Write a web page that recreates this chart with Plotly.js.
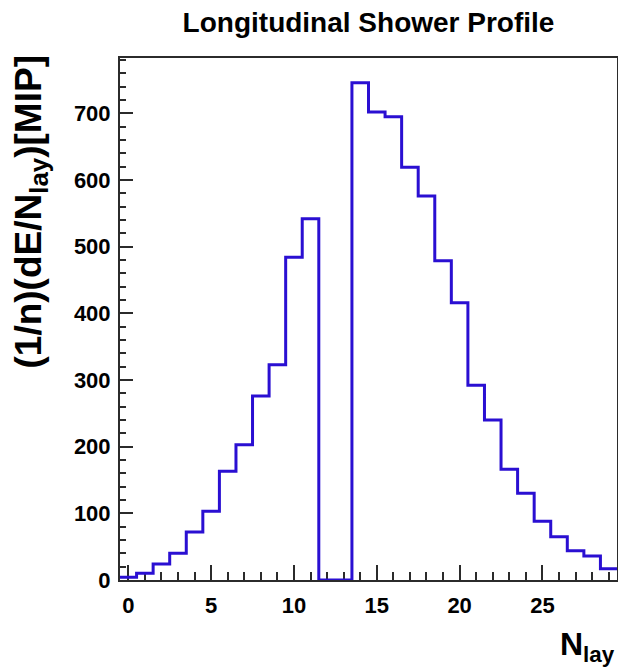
<!DOCTYPE html>
<html>
<head>
<meta charset="utf-8">
<script src="https://cdn.plot.ly/plotly-3.0.1.min.js"></script>
<style>
  html, body { margin: 0; padding: 0; background: #fff; }
  #chart { width: 618px; height: 672px; }
</style>
</head>
<body>
<div id="chart"></div>
<script>
// Layer numbers (bin centres) and mean deposited energy per layer [MIP]
const layers = [0, 1, 2, 3, 4, 5, 6, 7, 8, 9, 10, 11, 12, 13, 14,
                15, 16, 17, 18, 19, 20, 21, 22, 23, 24, 25, 26, 27, 28, 29];
const energy = [4, 10, 24, 40, 72, 103, 163, 203, 276, 323, 484, 542, 0, 0, 746,
                702, 695, 619, 576, 479, 416, 292, 240, 166, 130, 88, 65, 44, 36, 17];
const xTickVals = [0, 5, 10, 15, 20, 25];
const xTickText = ['0', '5', '10', '15', '20', '25'];
const yTickVals = [0, 100, 200, 300, 400, 500, 600, 700];
const yTickText = ['0', '100', '200', '300', '400', '500', '600', '700'];

// Histogram outline: left bin edges with step-after shape, closed at last right edge
const binWidth = 1;
const stepX = layers.map(l => l - binWidth / 2).concat([layers[layers.length - 1] + binWidth / 2]);
const stepY = energy.concat([energy[energy.length - 1]]);

const FONT = 'Liberation Sans, Arial, Helvetica, sans-serif';
const AX = '#2b2b2b';

const trace = {
  type: 'scatter',
  mode: 'lines',
  x: stepX,
  y: stepY,
  line: { shape: 'hv', color: '#2a0fd2', width: 3 },
  hoverinfo: 'x+y'
};

const layout = {
  width: 618,
  height: 672,
  margin: { l: 120, r: 1, t: 58, b: 92 },
  paper_bgcolor: '#ffffff',
  plot_bgcolor: '#ffffff',
  showlegend: false,
  font: { family: FONT, color: '#000' },
  title: {
    text: 'Longitudinal Shower Profile',
    font: { family: FONT, size: 28, weight: 'bold', color: '#000' },
    xref: 'paper', x: 0.5, xanchor: 'center',
    yref: 'container', y: 1 - 22 / 672, yanchor: 'middle'
  },
  xaxis: {
    range: [-0.5, 29.5],
    tickmode: 'array', tickvals: xTickVals, ticktext: xTickText,
    ticks: 'inside', ticklen: 15, tickwidth: 2, tickcolor: AX,
    minor: { dtick: 1, tick0: 0, ticks: 'inside', ticklen: 8, tickwidth: 2, tickcolor: AX },
    showline: true, linecolor: AX, linewidth: 2, mirror: true,
    showgrid: false, zeroline: false,
    tickfont: { family: FONT, size: 22, weight: 'bold', color: '#000' },
    ticklabelstandoff: 5,
    layer: 'below traces',
    fixedrange: true
  },
  yaxis: {
    range: [0, 783],
    tickmode: 'array', tickvals: yTickVals, ticktext: yTickText,
    ticks: 'inside', ticklen: 13, tickwidth: 2, tickcolor: AX,
    minor: { dtick: 20, tick0: 0, ticks: 'inside', ticklen: 6, tickwidth: 2, tickcolor: AX },
    showline: true, linecolor: AX, linewidth: 2, mirror: true,
    showgrid: false, zeroline: false,
    tickfont: { family: FONT, size: 22, weight: 'bold', color: '#000' },
    ticklabelstandoff: 3,
    layer: 'below traces',
    fixedrange: true
  },
  annotations: [
    {
      text: '(1/n)(dE/N<sub>lay</sub>)[MIP]',
      textangle: -90,
      font: { family: FONT, size: 37, weight: 'bold', color: '#000' },
      xref: 'paper', x: (6 - 120) / 497, xanchor: 'left',
      yref: 'paper', y: 1 + 4 / 522, yanchor: 'top',
      showarrow: false
    },
    {
      text: 'N<sub>lay</sub>',
      font: { family: FONT, size: 32, weight: 'bold', color: '#000' },
      xref: 'paper', x: 1, xanchor: 'right',
      yref: 'paper', y: (580 - 624) / 522, yanchor: 'top',
      showarrow: false
    }
  ]
};

Plotly.newPlot('chart', [trace], layout, { displayModeBar: false, staticPlot: true });
</script>
</body>
</html>
